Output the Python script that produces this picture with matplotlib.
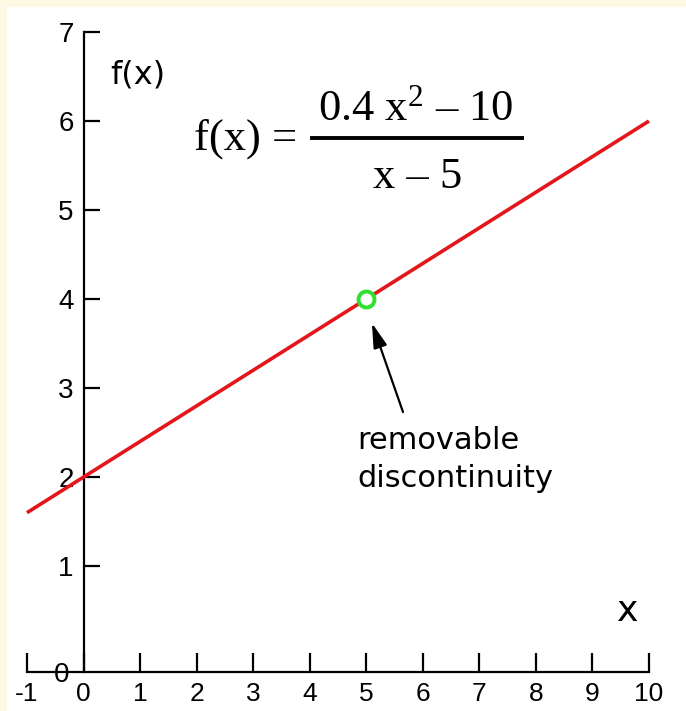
import matplotlib
matplotlib.use("Agg")
import matplotlib.pyplot as plt
from matplotlib.patches import Rectangle
from matplotlib.lines import Line2D

# ---- data ----
line_x = [-1, 10]
line_y = [1.6, 6.0]
hole_x = [5]
hole_y = [4]
x_ticks = [-1, 0, 1, 2, 3, 4, 5, 6, 7, 8, 9, 10]
x_tick_labels = ["-1", "0", "1", "2", "3", "4", "5", "6", "7", "8", "9", "10"]
y_ticks = [1, 2, 3, 4, 5, 6, 7]
y_tick_labels = ["1", "2", "3", "4", "5", "6", "7"]
y_floor = -0.19

plt.rcParams['mathtext.fontset'] = 'custom'
plt.rcParams['mathtext.rm'] = 'Liberation Serif'
plt.rcParams['mathtext.it'] = 'Liberation Serif'

W, H = 686, 711
fig = plt.figure(figsize=(W / 100, H / 100), dpi=100)
fig.patch.set_facecolor('#fcfae2')
fig.patches.append(Rectangle((7 / W, 0), 1, 1 - 7 / H, transform=fig.transFigure,
                             facecolor='white', edgecolor='none', zorder=-5))

ax = fig.add_axes([27 / W, 39 / H, 622 / W, 640 / H])
ax.set_zorder(2)
ax.set_facecolor('none')
ax.set_xlim(-1, 10)
ax.set_ylim(y_floor, 7)

for s in ['top', 'right']:
    ax.spines[s].set_visible(False)
ax.spines['left'].set_position(('data', 0))
ax.spines['left'].set_linewidth(1.6)
ax.spines['bottom'].set_linewidth(1.6)

tickfont = ['Liberation Sans Narrow', 'Liberation Sans', 'DejaVu Sans']
ax.set_xticks(x_ticks)
ax.set_xticklabels(x_tick_labels, family=tickfont, fontsize=19)
ax.set_yticks(y_ticks)
ax.set_yticklabels(y_tick_labels, family=tickfont, fontsize=20)
ax.set_yticks([y_floor], minor=True)
ax.set_yticklabels(["0"], minor=True, family=tickfont, fontsize=20)
ax.tick_params(axis='x', direction='in', length=14, width=1.6, pad=7, color='black')
ax.tick_params(axis='y', which='major', direction='in', length=11.5, width=1.6, pad=7)
ax.tick_params(axis='y', which='minor', length=0, pad=10)

ax.plot(line_x, line_y, color='#e3161b', lw=2.6, clip_on=False, zorder=3,
        solid_capstyle='butt')
ax.plot(hole_x, hole_y, 'o', ms=11.5, mfc='white', mec='#2fe02f', mew=2.8, zorder=4)

ax.annotate('', xy=(5.1, 3.73), xytext=(5.65, 2.73),
            arrowprops=dict(arrowstyle='-|>,head_length=1.0,head_width=0.28',
                            color='black', lw=1.6, mutation_scale=15, shrinkA=0, shrinkB=0))

ax.text(4.84, 1.89, "removable\ndiscontinuity", fontsize=22, family='DejaVu Sans',
        ha='left', va='baseline', linespacing=1.38)

ax.text(0.96, 6.52, "f(x)", fontsize=23, family='DejaVu Sans', ha='center', va='center')
ax.text(9.62, 0.49, "x", fontsize=26, family='DejaVu Sans', ha='center', va='center')

serif = 'Liberation Serif'
ax.text(2.86, 5.68, "f(x) =", fontsize=32, family=serif, ha='center', va='baseline')
ax.text(5.88, 6.01, r"0.4 x$^{2}$ – 10", fontsize=32, family=serif, ha='center', va='baseline')
ax.add_line(Line2D([4.04, 7.76], [5.81, 5.81], color='black', lw=2.8, clip_on=False))
ax.text(5.90, 5.25, "x – 5", fontsize=32, family=serif, ha='center', va='baseline')

fig.savefig('out.png', dpi=100, facecolor=fig.get_facecolor())
